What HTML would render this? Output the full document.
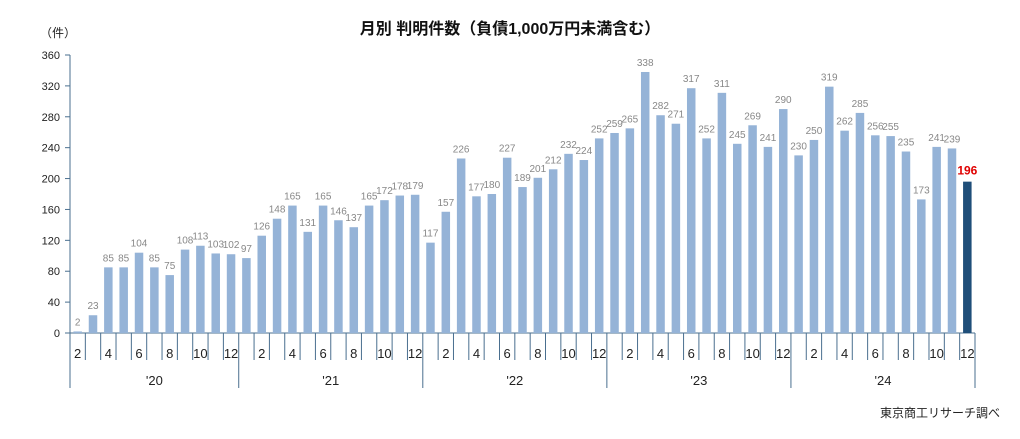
<!DOCTYPE html>
<html><head><meta charset="utf-8">
<style>
body{margin:0;background:#fff;width:1020px;height:434px;overflow:hidden;font-family:"Liberation Sans","Noto Sans CJK JP",sans-serif;}
svg text{font-family:"Liberation Sans","Noto Sans CJK JP",sans-serif;}
</style></head><body>
<svg id="chart" width="1020" height="434" xmlns="http://www.w3.org/2000/svg">
<text x="510" y="34" text-anchor="middle" font-size="16" font-weight="bold" fill="#111">月別 判明件数（負債1,000万円未満含む）</text>
<text x="40" y="37" font-size="12" fill="#222">（件）</text>
<text x="1000" y="417" text-anchor="end" font-size="12" fill="#222">東京商工リサーチ調べ</text>
<g id="g"></g>
</svg>
<script>
const years = ["'20","'21","'22","'23","'24"];
const months = [2,3,4,5,6,7,8,9,10,11,12, 1,2,3,4,5,6,7,8,9,10,11,12, 1,2,3,4,5,6,7,8,9,10,11,12, 1,2,3,4,5,6,7,8,9,10,11,12, 1,2,3,4,5,6,7,8,9,10,11,12];
const values = [2,23,85,85,104,85,75,108,113,103,102,
 97,126,148,165,131,165,146,137,165,172,178,179,
 117,157,226,177,180,227,189,201,212,232,224,252,
 259,265,338,282,271,317,252,311,245,269,241,290,
 230,250,319,262,285,256,255,235,173,241,239,196];
const yTicks = [0,40,80,120,160,200,240,280,320,360];

const NS="http://www.w3.org/2000/svg";
const g=document.getElementById('g');
const x0=70,x1=975,yZero=333,yTop=55,yMax=360;
const band=(x1-x0)/values.length;
const xs=i=>x0+band*i;
const ys=v=>yZero-(v/yMax)*(yZero-yTop);
function el(t,a){const e=document.createElementNS(NS,t);for(const k in a)e.setAttribute(k,a[k]);g.appendChild(e);return e;}

const ax=el('line',{x1:x0,y1:yTop,x2:x0,y2:yZero,stroke:'#4a6f8f','stroke-width':1});


yTicks.forEach(t=>{
  const tk=el('line',{x1:x0-5,y1:ys(t),x2:x0,y2:ys(t),stroke:'#4a6f8f'});
  
  
  const tl=el('text',{x:x0-10,y:ys(t)+4,'text-anchor':'end','font-size':11,fill:'#222'});
  tl.textContent=t;
  
  
});
const xa=el('line',{x1:x0-5,y1:yZero,x2:x1,y2:yZero,stroke:'#4a6f8f'});



values.forEach((v,i)=>{
  const cx=xs(i)+band/2, bw=8.5;
  const last=i===values.length-1;
  const b=el('rect',{x:cx-bw/2,y:ys(v),width:bw,height:yZero-ys(v),fill:last?'#1f4e79':'#95b3d7'});
  
  
  const l=el('text',{x:cx,y:ys(v)-(last?7:6),'text-anchor':'middle','font-size':last?12:10,fill:last?'#e00000':'#888','font-weight':last?'bold':'normal'});
  l.textContent=v;
  
  
  const isYear=months[i]===1||i===0;
  const sep=el('line',{x1:xs(i),y1:yZero,x2:xs(i),y2:isYear?388:360,stroke:'#4a6f8f'});
  
  
  if(months[i]%2===0){
    const m=el('text',{x:cx,y:358,'text-anchor':'middle','font-size':13,fill:'#222'});
    m.textContent=months[i];
    
    
  }
});
const endSep=el('line',{x1:x1,y1:yZero,x2:x1,y2:388,stroke:'#4a6f8f'});


let start=0;
years.forEach((y,k)=>{
  const n=k===0?11:12;
  const cx=(xs(start)+xs(start+n))/2;
  const t=el('text',{x:cx,y:385,'text-anchor':'middle','font-size':13,fill:'#222'});
  t.textContent=y;
  
  
  start+=n;
});
</script>
</body></html>
